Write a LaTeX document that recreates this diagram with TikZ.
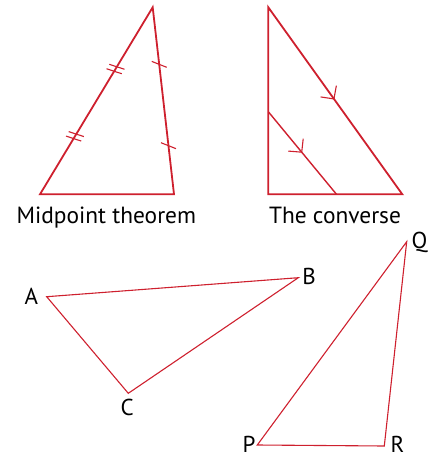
\documentclass[tikz,border=0pt]{standalone}
\usepackage{fontspec}
\setmainfont{PT Sans}
\usepackage{tikz}
\usetikzlibrary{decorations.markings}
\definecolor{trired}{RGB}{206,32,46}
\tikzset{
  side/.style={draw=trired, line width=1.8pt},
  thinside/.style={draw=trired, line width=1.1pt},
  caption/.style={font=\fontsize{23.4}{27}\selectfont, anchor=base, inner sep=0pt},
  vlabel/.style={font=\fontsize{23}{27}\selectfont, inner sep=0pt},
  dbltick/.style={postaction={decorate, decoration={markings,
    mark=at position #1 with {
      \draw[trired, line width=1.1pt] (-4.4pt,7.8pt) -- (-0.8pt,-7.8pt);
      \draw[trired, line width=1.1pt] (0.8pt,7.8pt) -- (4.4pt,-7.8pt);}}}},
  sgltick/.style={postaction={decorate, decoration={markings,
    mark=at position #1 with {
      \draw[trired, line width=1.1pt] (-3.8pt,-7.1pt) -- (3.8pt,7.1pt);}}}},
  parmark/.style={postaction={decorate, decoration={markings,
    mark=at position #1 with {
      \draw[trired, line width=1.1pt] (-9.4pt,9.7pt) -- (0pt,0pt) -- (-9.4pt,-9.7pt);}}}}
}
\begin{document}
\begin{tikzpicture}[x=1pt, y=-1pt]
  \useasboundingbox (0,0) rectangle (437,456);
  % midpoint theorem
  \coordinate (T1) at (152.7,7.3);
  \coordinate (L1) at (40,194.3);
  \coordinate (R1) at (174,194.3);
  \draw[side] (L1) -- (T1) -- (R1) -- cycle;
  \path[dbltick=0.31, dbltick=0.67] (L1) -- (T1);
  \path[sgltick=0.305, sgltick=0.74] (T1) -- (R1);
  \node[caption] (cap1) at (106.3,223) {Midpoint theorem};
  % the converse
  \coordinate (T2) at (268.3,7.3);
  \coordinate (B2) at (268.3,194.3);
  \coordinate (R2) at (402.3,194.3);
  \coordinate (M1) at (268.3,111.7);
  \coordinate (M2) at (336.5,194.3);
  \draw[side] (T2) -- (B2) -- (R2) -- cycle;
  \path[parmark=0.49] (T2) -- (R2);
  \draw[trired, line width=1.4pt, parmark=0.49] (M1) -- (M2);
  \node[caption] (cap2) at (335,223) {The converse};
  % triangle ABC
  \coordinate (A) at (46.7,296.7);
  \coordinate (B) at (298.3,277.7);
  \coordinate (C) at (128.3,393.3);
  \draw[thinside] (A) -- (B) -- (C) -- cycle;
  \node[vlabel] (lA) at (31.3,296.5) {A};
  \node[vlabel] (lB) at (309,276.3) {B};
  \node[vlabel] (lC) at (127.3,407.3) {C};
  % triangle PQR
  \coordinate (P) at (257.3,445);
  \coordinate (Q) at (406.7,241.7);
  \coordinate (R) at (384.3,446);
  \draw[thinside] (P) -- (Q) -- (R) -- cycle;
  \node[vlabel] (lP) at (249,444) {P};
  \node[vlabel] (lQ) at (419.5,242.5) {Q};
  \node[vlabel] (lR) at (397.5,444) {R};
\end{tikzpicture}
\end{document}
